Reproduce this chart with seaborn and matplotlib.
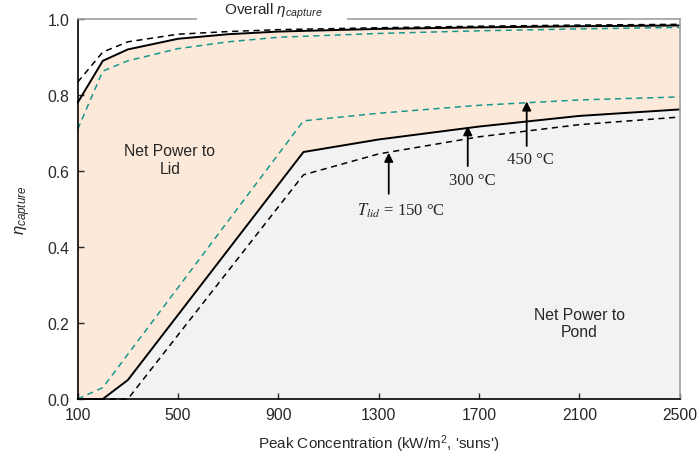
import numpy as np
import pandas as pd
import seaborn as sns
import matplotlib.pyplot as plt

# Upper curves (overall capture efficiency) vs peak concentration
x_up = [100, 200, 300, 500, 700, 900, 1300, 1700, 2100, 2500]
up_150 = [0.834, 0.913, 0.94, 0.96, 0.967, 0.972, 0.977, 0.981, 0.984, 0.986]
up_300 = [0.78, 0.89, 0.92, 0.948, 0.96, 0.967, 0.974, 0.978, 0.981, 0.983]
up_450 = [0.71, 0.863, 0.89, 0.922, 0.94, 0.952, 0.962, 0.969, 0.974, 0.978]

# Lower curves (net power to pond boundary)
x_lo_150 = [100, 300, 1000, 1300, 1700, 2100, 2500]
lo_150 = [0.0, 0.0, 0.59, 0.645, 0.69, 0.722, 0.742]
x_lo_300 = [100, 200, 300, 1000, 1300, 1700, 2100, 2500]
lo_300 = [0.0, 0.0, 0.05, 0.65, 0.683, 0.717, 0.745, 0.762]
x_lo_450 = [100, 200, 1000, 1300, 1700, 2100, 2500]
lo_450 = [0.0, 0.03, 0.732, 0.752, 0.773, 0.787, 0.795]

x_ticks = [100, 500, 900, 1300, 1700, 2100, 2500]
y_ticks = [0.0, 0.2, 0.4, 0.6, 0.8, 1.0]

# arrow labels: (label, arrow x, tip y, tail y, text x, text y)
arrows = [
    ("$T_{lid}$ = 150 °C", 1340, 0.648, 0.54, 1390, 0.497),
    ("300 °C", 1655, 0.718, 0.613, 1675, 0.577),
    ("450 °C", 1890, 0.783, 0.666, 1905, 0.632),
]

teal = "#17978a"
peach = "#fde9d9"
grey = "#f2f2f2"

sns.set_style("ticks")
plt.rcParams["font.family"] = ["Liberation Sans", "DejaVu Sans"]
plt.rcParams["mathtext.fontset"] = "custom"
plt.rcParams["mathtext.rm"] = "Liberation Sans"
plt.rcParams["mathtext.it"] = "Liberation Sans:italic"
plt.rcParams["font.size"] = 11

fig, ax = plt.subplots(figsize=(7, 4.6), dpi=100)
fig.subplots_adjust(left=0.111, right=0.971, bottom=0.1304, top=0.9565)

# shaded regions
ax.fill(x_lo_300 + [2500, 100], lo_300 + [0, 0], color=grey, lw=0, zorder=0)
ax.fill(x_up + x_lo_300[::-1], up_300 + lo_300[::-1], color=peach, lw=0, zorder=0)

dash = (0, (4, 3))
for xs, ys, c, ls, lw in [
    (x_up, up_150, "black", dash, 1.1),
    (x_up, up_300, "black", "-", 1.4),
    (x_up, up_450, teal, dash, 1.1),
    (x_lo_150, lo_150, "black", dash, 1.1),
    (x_lo_300, lo_300, "black", "-", 1.4),
    (x_lo_450, lo_450, teal, dash, 1.1),
]:
    sns.lineplot(x=xs, y=ys, ax=ax, color=c, linestyle=ls, linewidth=lw,
                 estimator=None, sort=False, clip_on=False)

for lab, ax_x, tip, tail, tx, ty in arrows:
    ax.annotate("", xy=(ax_x, tip), xytext=(ax_x, tail),
                arrowprops=dict(arrowstyle="-|>", color="black", lw=1.3,
                                mutation_scale=13, shrinkA=0, shrinkB=0))
    ax.text(tx, ty, lab, ha="center", va="center", fontsize=12,
            family="Liberation Serif", math_fontfamily="stix")

ax.text(467, 0.63, "Net Power to\nLid", ha="center", va="center", fontsize=11.3)
ax.text(2100, 0.2, "Net Power to\nPond", ha="center", va="center", fontsize=11.3)

ax.text(875, 1.022, "      Overall $\\eta_{capture}$      ", ha="center", va="center",
        fontsize=11, zorder=5, clip_on=False,
        bbox=dict(boxstyle="square,pad=0.15", fc="white", ec="none"))

ax.set_xlim(100, 2500)
ax.set_ylim(0, 1)
ax.set_xticks(x_ticks)
ax.set_yticks(y_ticks)
ax.set_yticklabels([f"{v:.1f}" for v in y_ticks])
ax.tick_params(direction="in", length=4, width=1, labelsize=11.3, pad=6)
ax.set_xlabel("Peak Concentration (kW/m$^2$, 'suns')", fontsize=11, labelpad=7)
ax.set_ylabel("$\\eta_{capture}$", fontsize=12, labelpad=10)

for s in ["left", "bottom"]:
    ax.spines[s].set_color("black")
    ax.spines[s].set_linewidth(1.2)
for s in ["top", "right"]:
    ax.spines[s].set_color("#a0a0a0")
    ax.spines[s].set_linewidth(1.2)

fig.savefig("out.png", dpi=100)
